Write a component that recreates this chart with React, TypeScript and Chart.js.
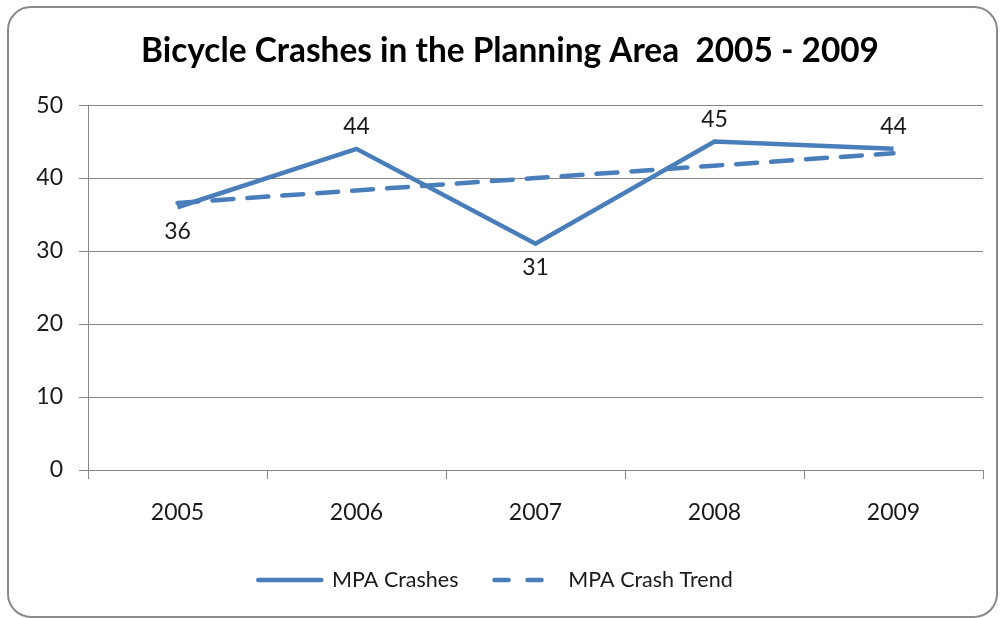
import React, { useEffect, useRef } from "react";
import { Chart, registerables } from "chart.js";

Chart.register(...registerables);

const categories = ["2005", "2006", "2007", "2008", "2009"];
const crashes = [36, 44, 31, 45, 44];
const crashTrend = [36.6, 38.3, 40.0, 41.7, 43.4];
const labelPlacement = ["below", "above", "below", "above", "above"];
const yTicks = [0, 10, 20, 30, 40, 50];

const BLUE = "#4a7ebb";
const FONT = "Lato, 'Noto Sans', sans-serif";

const dataLabels = {
  id: "dataLabels",
  afterDatasetsDraw(chart: any) {
    const meta = chart.getDatasetMeta(0);
    const ctx = chart.ctx;
    ctx.save();
    ctx.font = `23px ${FONT}`;
    ctx.fillStyle = "#1a1a1a";
    ctx.textAlign = "center";
    ctx.textBaseline = "middle";
    meta.data.forEach((pt: any, i: number) => {
      const dy = labelPlacement[i] === "above" ? -22 : 24;
      ctx.fillText(String(crashes[i]), pt.x, pt.y + dy);
    });
    ctx.restore();
  },
};

// shift the title / legend boxes horizontally to match the reference's centring
const boxShift = {
  id: "boxShift",
  afterLayout(chart: any) {
    const t = chart.titleBlock;
    if (t) {
      t.left = 37;
      t.right = 983;
    }
    const l = chart.legend;
    if (l) {
      l.left = 4;
      l.right = 987;
    }
  },
};

export default function App() {
  const ref = useRef<HTMLCanvasElement>(null);
  useEffect(() => {
    if (!ref.current) return;
    const chart = new Chart(ref.current, {
      type: "line",
      data: {
        labels: categories,
        datasets: [
          {
            label: "MPA Crashes",
            data: crashes,
            borderColor: BLUE,
            backgroundColor: BLUE,
            borderWidth: 4.5,
            pointRadius: 0,
            tension: 0,
            borderJoinStyle: "miter",
          },
          {
            label: "MPA Crash Trend",
            data: crashTrend,
            borderColor: BLUE,
            backgroundColor: BLUE,
            borderWidth: 4.5,
            borderDash: [21, 14],
            borderCapStyle: "round",
            pointRadius: 0,
            tension: 0,
          },
        ],
      },
      options: {
        responsive: false,
        animation: false,
        layout: { padding: { left: 0, right: 17, top: 0, bottom: 17.25 } },
        plugins: {
          title: {
            display: true,
            text: "Bicycle Crashes in the Planning Area  2005 - 2009",
            color: "#000",
            font: { family: FONT, size: 33.4, weight: "bold" },
            padding: { top: 31, bottom: 34 },
          },
          legend: {
            position: "bottom",
            labels: {
              color: "#1a1a1a",
              font: { family: FONT, size: 21.5 },
              usePointStyle: true,
              pointStyle: "line",
              pointStyleWidth: 63,
              padding: 36,
              generateLabels: (chart: any) =>
                chart.data.datasets.map((ds: any, i: number) => ({
                  text: ds.label,
                  fillStyle: BLUE,
                  strokeStyle: BLUE,
                  lineWidth: 4.5,
                  lineDash: i === 1 ? [14, 19] : [],
                  lineCap: "round",
                  pointStyle: "line",
                  datasetIndex: i,
                  hidden: false,
                  fontColor: "#1a1a1a",
                })),
            },
          },
          tooltip: { enabled: false },
        },
        scales: {
          x: {
            offset: true,
            grid: {
              offset: true,
              drawOnChartArea: false,
              color: "#868686",
              tickLength: 9,
            },
            border: { display: false },
            ticks: {
              color: "#1a1a1a",
              font: { family: FONT, size: 23 },
              padding: 20,
            },
            afterFit: (s: any) => {
              s.height = 63.25;
            },
          },
          y: {
            min: 0,
            max: 50,
            afterBuildTicks: (s: any) => {
              s.ticks = yTicks.map((v) => ({ value: v }));
            },
            grid: { color: "#868686", tickLength: 9 },
            border: { color: "#868686" },
            ticks: {
              color: "#1a1a1a",
              font: { family: FONT, size: 23 },
              padding: 16,
            },
            afterFit: (s: any) => {
              s.width = 88;
            },
          },
        },
      },
      plugins: [dataLabels, boxShift],
    });
    return () => chart.destroy();
  }, []);

  return (
    <div style={{ position: "fixed", left: 0, top: 0, width: 1000, height: 618, background: "#fff" }}>
      <canvas ref={ref} width={1000} height={618} style={{ position: "absolute", left: 0, top: 0 }} />
      <div
        style={{
          position: "absolute",
          left: 7,
          top: 6,
          width: 991,
          height: 612,
          boxSizing: "border-box",
          border: "2px solid #8a8a8a",
          borderRadius: 24,
          pointerEvents: "none",
        }}
      />
    </div>
  );
}
